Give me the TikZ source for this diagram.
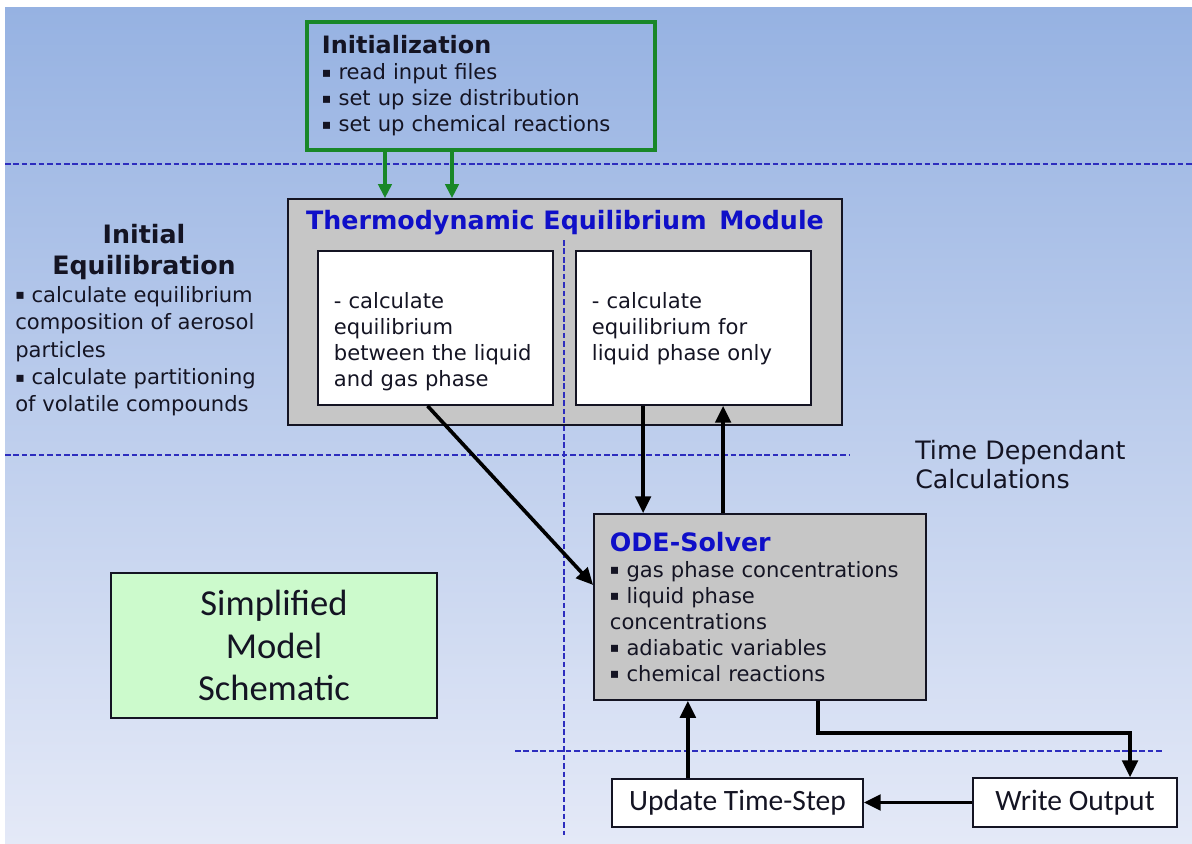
\documentclass[tikz,border=0pt]{standalone}
\usepackage{fontspec}
\setmainfont{DejaVu Sans}
\newfontfamily\calibrifont{Carlito}
\usetikzlibrary{positioning, arrows.meta, calc}

\definecolor{bgtop}{RGB}{150,178,226}
\definecolor{bgbottom}{RGB}{228,233,247}
\definecolor{initgreen}{RGB}{25,135,40}
\definecolor{modgray}{RGB}{198,198,198}
\definecolor{titleblue}{RGB}{15,15,200}
\definecolor{sepblue}{RGB}{45,45,190}
\definecolor{notegreen}{RGB}{204,250,204}
\definecolor{inkdark}{RGB}{20,20,35}

\newcommand{\sqbul}{\raisebox{0.12em}{\fontsize{10}{10}\selectfont\mdseries ▪}}

\begin{document}
\begin{tikzpicture}[
    x=0.025cm, y=-0.025cm,
    every node/.style={text=inkdark},
    body/.style={font=\fontsize{15}{18.5}\selectfont},
    box/.style={draw=inkdark, line width=1.2pt, inner sep=0pt},
    panel/.style={box, fill=modgray},
    textbox/.style={box, body, fill=white, align=left, inner xsep=0.4cm, text width=5.075cm, text height=1.425cm, text depth=2.425cm},
    stepbox/.style={box, fill=white, line width=1pt, font=\calibrifont\fontsize{21}{24}\selectfont},
    separator/.style={sepblue, line width=1pt, dash pattern=on 4pt off 2pt},
    flow/.style={draw, -{Triangle[length=12pt,width=11pt]}, line width=2.6pt, black},
    initflow/.style={draw, -{Triangle[length=10pt,width=9.5pt]}, line width=2.4pt, initgreen}
]
    \useasboundingbox (0,0) rectangle (1192,843);
    \fill[white] (0,0) rectangle (1192,843);
    \shade[top color=bgtop, bottom color=bgbottom] (5,7) rectangle (1192,843);

    % Boxes placed at pixel positions of the scheme:
    \node[body, draw=initgreen, line width=2.5pt, inner ysep=0pt, inner xsep=0.375cm, text width=7.95cm, minimum height=3.2cm, align=left] (init) at (481,86)
        {{\fontsize{17}{19}\selectfont\bfseries Initialization}\\ \sqbul\ read input files\\ \sqbul\ set up size distribution\\ \sqbul\ set up chemical reactions};
    \node[panel, minimum width=13.85cm, minimum height=5.65cm] (tem) at (565,312) {};
    \node[font=\fontsize{18}{20}\selectfont\bfseries, text=titleblue, inner sep=0pt] (temtitle) at (565,223) {Thermodynamic Equilibrium\enspace Module};
    \node[textbox] (eqgas) at (435.5,328) {- calculate\\equilibrium\\between the liquid\\and gas phase};
    \node[textbox] (eqliq) at (693.5,328) {- calculate\\equilibrium for\\liquid phase only};
    \node[panel, body, inner xsep=0.4cm, inner ysep=0pt, text width=7.5cm, minimum height=4.65cm, align=left] (ode) at (760,607)
        {{\color{titleblue}\fontsize{18}{19}\selectfont\bfseries ODE-Solver}\\ \sqbul\ gas phase concentrations\\ \sqbul\ liquid phase\\ concentrations\\ \sqbul\ adiabatic variables\\ \sqbul\ chemical reactions};
    \node[box, fill=notegreen, line width=2pt, minimum width=8.15cm, minimum height=3.625cm, align=center, font=\calibrifont\fontsize{26}{30}\selectfont] (simple) at (274,645.5) {Simplified\\Model\\Schematic};
    \node[stepbox, minimum width=6.275cm, minimum height=1.2cm] (update) at (737.5,803) {Update Time-Step};
    \node[stepbox, minimum width=5.1cm, minimum height=1.225cm] (output) at (1075,802.5) {Write Output};

    \node[font=\fontsize{18}{22}\selectfont\bfseries, align=center, inner sep=0pt] (eqhead) at (144,252) {Initial\\Equilibration};
    \node[body, font=\fontsize{15}{19.5}\selectfont, anchor=north west, inner sep=0pt, align=left] (eqnote) at (15,286)
        {\sqbul\ calculate equilibrium\\composition of aerosol\\particles\\\sqbul\ calculate partitioning\\of volatile compounds};
    \node[font=\fontsize{18}{20.6}\selectfont, anchor=north west, inner sep=0pt, align=left] (timenote) at (915,440) {Time Dependant\\Calculations};

    \draw[separator] (5,164) -- (1192,164);
    \draw[separator] (5,455) -- (850,455);
    \draw[separator] (515,751) -- (1163,751);
    \draw[separator] (564,240) -- (564,835);

    \path
        ([xshift=-2.4cm]init.south) edge[initflow] ([xshift=-2.4cm]init.south |- tem.north)
        ([xshift=-0.725cm]init.south) edge[initflow] ([xshift=-0.725cm]init.south |- tem.north);
    \path
        ([xshift=-0.2cm]eqgas.south) edge[flow] ([yshift=0.55cm]ode.west)
        ([xshift=-1.26cm]eqliq.south) edge[flow] ([xshift=-1.26cm]eqliq.south |- ode.north)
        ([xshift=0.74cm]eqliq.south |- ode.north) edge[flow] ([xshift=0.74cm]eqliq.south)
        (output.west) edge[flow] (output.west -| update.east)
        ([xshift=-1.24cm]update.north) edge[flow] ([xshift=-1.24cm]update.north |- ode.south);
    \draw[flow] ([xshift=1.45cm]ode.south) -- ++(0,-0.8cm) -| ([xshift=1.375cm]output.north);
\end{tikzpicture}
\end{document}
